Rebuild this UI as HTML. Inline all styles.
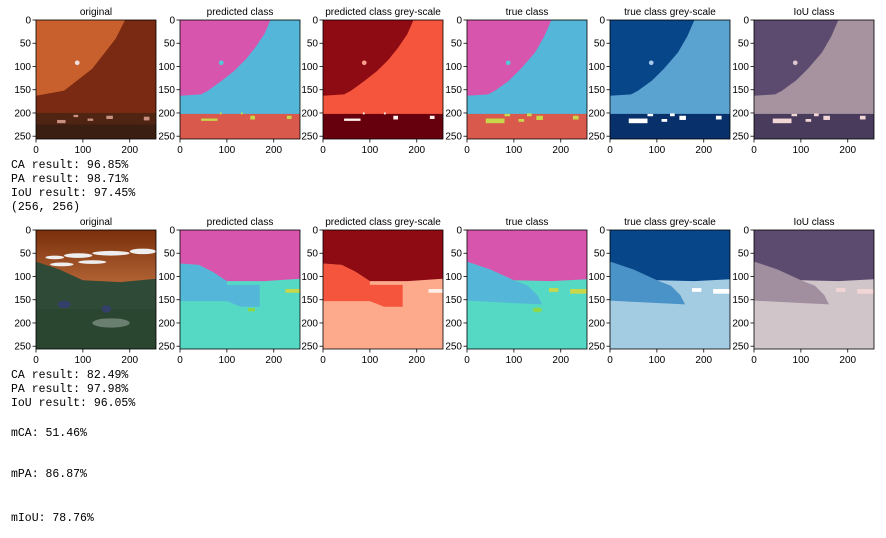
<!DOCTYPE html>
<html><head><meta charset="utf-8"><style>
html,body{margin:0;padding:0;background:#fff;width:886px;height:538px;overflow:hidden}
svg{display:block}
.t{font-family:"Liberation Sans",sans-serif;font-size:10px;fill:#000}
.m{font-family:"Liberation Mono",monospace;font-size:11.5px;fill:#000}
</style></head><body>
<svg id="fig" width="886" height="538" viewBox="0 0 886 538">
<defs>
<linearGradient id="sky2" x1="0" y1="0" x2="0" y2="1"><stop offset="0" stop-color="#7a2e0a"/><stop offset="0.5" stop-color="#b86a3a"/><stop offset="1" stop-color="#c9b8a8"/></linearGradient>
</defs>
</svg>
<script>
const xTicks=[0,100,200];
const yTicks=[0,50,100,150,200,250];
const titles=["original","predicted class","predicted class grey-scale","true class","true class grey-scale","IoU class"];
const rowTop=[20,230];
const panelLeft=[36,180,323,467,610,754];
const metrics1=["CA result: 96.85%","PA result: 98.71%","IoU result: 97.45%","(256, 256)"];
const metrics2=["CA result: 82.49%","PA result: 97.98%","IoU result: 96.05%"];
const summary=["mCA: 51.46%","mPA: 86.87%","mIoU: 78.76%"];
const W=120,H=119,N=256;
const NS="http://www.w3.org/2000/svg";
const fig=document.getElementById('fig');
function el(t,a,p){const e=document.createElementNS(NS,t);for(const k in a)e.setAttribute(k,a[k]);(p||fig).appendChild(e);return e;}

// row1 shapes (data units)
const r1Pred="0,0 193,0 180,30 160,60 140,85 115,110 90,130 60,152 45,160 0,163";
const r1True="0,0 180,0 165,35 145,70 115,105 90,130 60,152 45,160 0,163";
const r2PredPink="0,0 256,0 256,105 180,110 100,110 70,90 40,75 0,72";
const r2PredBlue="0,72 40,75 70,90 100,110 100,118 170,118 170,165 130,165 100,153 0,153";
const r2TruePink="0,0 256,0 256,106 180,110 100,108 50,85 0,68";
const r2TrueBlue="0,68 50,85 100,108 130,120 150,140 160,160 100,157 0,152";

const pal=[
 null,
 {a:"#d855ad",b:"#54b6d8",c:"#d9594c",d:"#c8d84a",e:"#55d9c4",f:"#54b6d8",dot:"#54c8d8"},
 {a:"#8f0b14",b:"#f5553c",c:"#67000d",d:"#fff0ea",e:"#fcaa8b",f:"#f5553c",dot:"#f9a08c"},
 {a:"#d855ad",b:"#54b6d8",c:"#d9594c",d:"#c8d84a",e:"#55d9c4",f:"#54b6d8",dot:"#54c8d8"},
 {a:"#08468a",b:"#5aa2cf",c:"#08306b",d:"#ffffff",e:"#a3cbe2",f:"#4a93c8",dot:"#a8c8e8"},
 {a:"#5d4b6f",b:"#a6939f",c:"#483b5c",d:"#f2d6d6",e:"#d0c6ca",f:"#a18e9e",dot:"#e0c8d0"}
];

function panel(row,col){
 const x0=panelLeft[col],y0=rowTop[row];
 const g=el('g',{});
 
 
 const t=el('text',{x:x0+W/2,y:y0-5,'text-anchor':'middle',class:'t'},g);
 
 
 t.textContent=titles[col];
 const s=el('svg',{x:x0,y:y0,width:W,height:H,viewBox:"0 0 256 256",preserveAspectRatio:"none"},g);
 const p=pal[col];
 const poly=(pts,f)=>el('polygon',{points:pts,fill:f},s);
 const rect=(x,y,w,h,f)=>el('rect',{x:x,y:y,width:w,height:h,fill:f},s);
 if(col===0){
  if(row===0){
   rect(0,0,256,256,"#c8602e");
   poly("0,163 60,152 120,105 170,40 190,0 256,0 256,256 0,256","#7a2a12");
   rect(0,200,256,56,"#4f2413");
   rect(0,225,256,31,"#3a1e12");
   el('circle',{cx:88,cy:92,r:5,fill:"#f0e0e0"},s);
   [[45,215,18,7],[110,212,12,5],[150,206,14,7],[230,208,12,8],[80,204,10,5]].forEach(r=>rect(r[0],r[1],r[2],r[3],"#c89080"));
  } else {
   rect(0,0,256,256,"url(#sky2)");
   [[20,55,40,8],[60,50,60,10],[120,45,80,10],[200,40,56,12],[30,70,50,8],[90,65,60,8]].forEach(r=>el('ellipse',{cx:r[0]+r[2]/2,cy:r[1]+r[3]/2,rx:r[2]/2,ry:r[3]/2,fill:"#eee"},s));
   poly("0,68 50,85 100,108 180,112 256,105 256,256 0,256","#2f4a36");
   rect(0,170,256,86,"#2a4530");
   el('ellipse',{cx:60,cy:160,rx:14,ry:8,fill:"#35406a"},s);
   el('ellipse',{cx:150,cy:170,rx:10,ry:8,fill:"#35406a"},s);
   el('ellipse',{cx:160,cy:200,rx:40,ry:10,fill:"#6b7f70"},s);
  }
 } else if(row===0){
  rect(0,0,256,256,p.b);
  poly(col<=2?r1Pred:r1True,p.a);
  rect(0,202,256,54,p.c);
  el('circle',{cx:88,cy:92,r:5,fill:p.dot},s);
  const blobs=col<=2?[[45,212,35,5],[150,206,10,8],[228,206,10,7],[85,199,4,4],[130,199,4,4]]
                     :[[40,212,40,10],[80,202,12,5],[110,213,12,6],[128,201,10,6],[148,206,14,9],[226,206,12,8]];
  blobs.forEach(r=>rect(r[0],r[1],r[2],r[3],p.d));
 } else {
  rect(0,0,256,256,p.e);
  if(col<=2){
   poly(r2PredBlue,p.f);
   poly(r2PredPink,p.a);
   rect(225,127,31,8,p.d);
   rect(145,168,15,7,col===1?"#8cd84a":p.e);
  } else {
   poly(r2TrueBlue,p.f);
   poly(r2TruePink,p.a);
   rect(175,125,20,8,p.d);rect(220,127,36,10,p.d);
   if(col===3) el('ellipse',{cx:150,cy:172,rx:10,ry:5,fill:"#8cd84a"},s);
  }
 }
 // frame
 el('rect',{x:x0,y:y0,width:W,height:H,fill:'none',stroke:'#000','stroke-width':0.8},g);
 yTicks.forEach(v=>{
  const y=y0+v*H/N;
  el('line',{x1:x0-3.5,x2:x0,y1:y,y2:y,stroke:'#000','stroke-width':0.8},g);
  const tl=el('text',{x:x0-5,y:y+3.5,'text-anchor':'end',class:'t'},g);
  
  
  tl.textContent=v;
 });
 xTicks.forEach(v=>{
  const x=x0+v*W/N;
  el('line',{x1:x,x2:x,y1:y0+H,y2:y0+H+3.5,stroke:'#000','stroke-width':0.8},g);
  const tl=el('text',{x:x,y:y0+H+14,'text-anchor':'middle',class:'t'},g);
  
  
  tl.textContent=v;
 });
}
for(let r=0;r<2;r++)for(let c=0;c<6;c++)panel(r,c);

function lines(arr,ys,name){
 arr.forEach((s,i)=>{
  const t=el('text',{x:11,y:ys[i],class:'m'});
  
  
  t.textContent=s;
 });
}
lines(metrics1,[168,182,196,210],'row1-metric');
lines(metrics2,[378,392,406],'row2-metric');
lines(summary,[436,477,521],'summary-metric');
</script>
</body></html>
